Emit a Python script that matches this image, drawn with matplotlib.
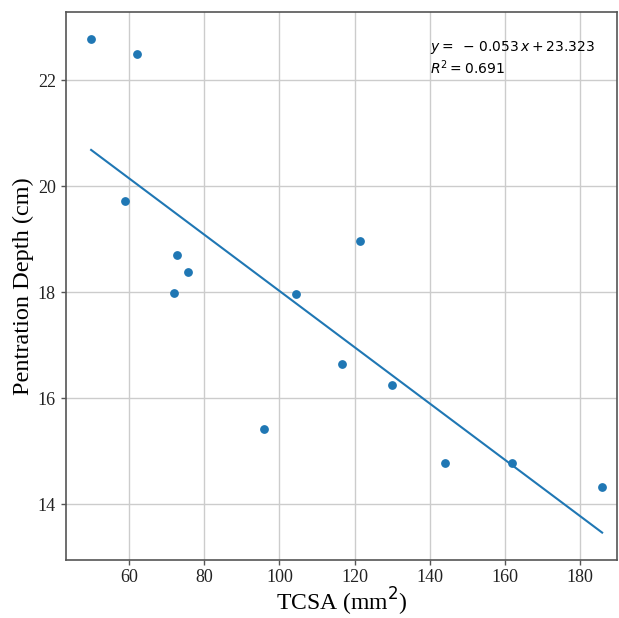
import numpy as np
import matplotlib
matplotlib.use('Agg')
import matplotlib.pyplot as plt

# valeurs
tcsa = [49.8, 62.1, 58.7, 72.8, 75.5, 71.8, 121.5, 104.3, 116.6, 130.0, 95.9, 144.1, 162.0, 186.0]
depth = [22.78, 22.50, 19.72, 18.70, 18.38, 17.98, 18.97, 17.97, 16.65, 16.25, 15.41, 14.78, 14.77, 14.33]
slope = -0.053
intercept = 23.323
r2 = 0.691

x_ticks = [60, 80, 100, 120, 140, 160, 180]
y_ticks = [14, 16, 18, 20, 22]

fig = plt.figure(figsize=(6.19, 6.18), dpi=100)
ax = fig.add_axes([0.106, 0.094, 0.891, 0.887])

color = '#1f77b4'
ax.scatter(tcsa, depth, s=28, color=color, zorder=3)

x_line = np.array([min(tcsa), max(tcsa)])
ax.plot(x_line, slope * x_line + intercept, color=color, linewidth=1.5, zorder=2)

# espaces autour du signe moins comme dans l'original
eq = f'$y =\\;-\\,{abs(slope):.3f}\\,x + {intercept:.3f}$\n$R^2 = {r2:.3f}$'
ax.text(140, 22.05, eq, fontsize=10, va='bottom', ha='left')

ax.set_xlim(43, 190)
ax.set_ylim(12.95, 23.29)
ax.set_xticks(x_ticks)
ax.set_yticks(y_ticks)
ax.grid(True, color='#cccccc', linewidth=1)
ax.set_axisbelow(True)

for side in ax.spines.values():
    side.set_color('#555555')
    side.set_linewidth(1.2)

ax.tick_params(colors='#555555', labelcolor='#222222', length=3.5, width=1)
ax.tick_params(axis='x', pad=3)
for lab in ax.get_xticklabels() + ax.get_yticklabels():
    lab.set_fontfamily('Liberation Serif')
    lab.set_fontsize(13)

ax.set_xlabel('TCSA (mm$^2$)', fontfamily='Liberation Serif', fontsize=17, labelpad=0)
ax.set_ylabel('Pentration Depth (cm)', fontfamily='Liberation Serif', fontsize=17.5, labelpad=3)

fig.savefig('out.png', dpi=100)
